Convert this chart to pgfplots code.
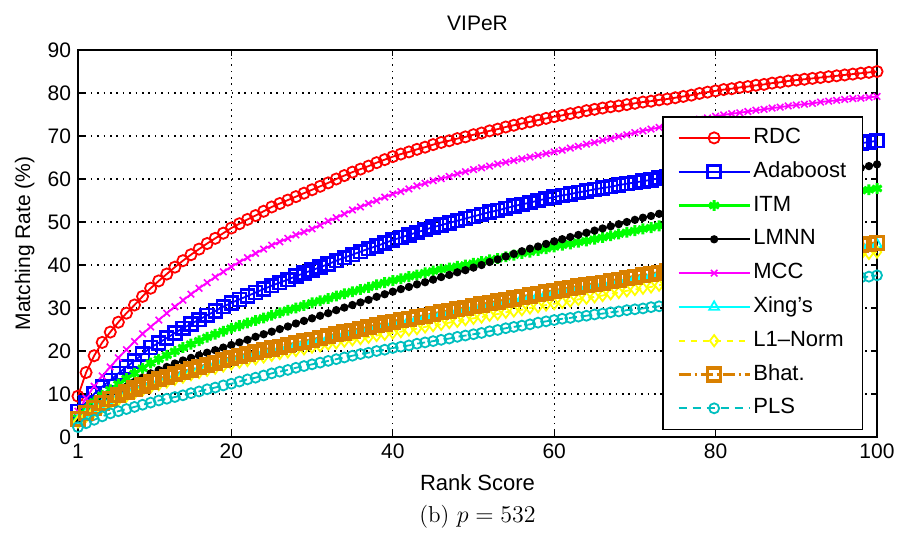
\documentclass[border=0pt]{standalone}
\usepackage{pgfplots}
\pgfplotsset{compat=1.18}
\usepackage{pgfplotstable}
\usepackage{fontspec}
\setsansfont{Liberation Sans}
\newfontfamily\ticksans{Liberation Sans}
\definecolor{cRDC}{rgb}{1,0,0}
\definecolor{cAda}{rgb}{0,0,1}
\definecolor{cITM}{rgb}{0,1,0}
\definecolor{cLMNN}{rgb}{0,0,0}
\definecolor{cMCC}{rgb}{1,0,1}
\definecolor{cXing}{rgb}{0,1,1}
\definecolor{cL1}{rgb}{1,1,0}
\definecolor{cBhat}{rgb}{0.85,0.5,0}
\definecolor{cPLS}{rgb}{0,0.75,0.75}
\newcommand{\tl}[1]{\textsf{\fontsize{10.5}{12}\selectfont #1}}
\pgfplotstableread{
r RDC Ada ITM LMNN MCC Xing L1 Bhat PLS
1 9.5 6.0 4.5 3.5 6.0 3.9 3.5 4.2 2.3
2 15.0 8.0 6.5 5.2 9.0 5.3 4.8 5.6 3.2
3 18.9 10.0 8.2 6.8 11.8 6.5 6.0 6.8 4.0
4 22.0 11.7 9.7 8.2 14.2 7.6 7.0 7.9 4.8
5 24.4 13.2 11.0 9.5 16.3 8.5 7.9 8.8 5.5
6 26.7 14.8 12.3 10.6 18.4 9.4 8.7 9.7 6.0
7 28.8 16.3 13.6 11.7 20.3 10.2 9.5 10.5 6.5
8 30.7 17.7 14.8 12.8 22.2 11.0 10.2 11.3 7.0
9 32.7 19.3 16.0 13.8 24.0 11.7 10.9 12.0 7.5
10 34.6 20.8 17.2 14.8 25.6 12.5 11.6 12.8 8.0
11 36.3 21.9 18.1 15.6 27.2 13.1 12.2 13.4 8.5
12 37.9 23.0 19.0 16.3 28.8 13.7 12.8 14.0 8.9
13 39.5 24.2 19.9 17.1 30.3 14.3 13.4 14.6 9.3
14 41.0 25.3 20.8 17.8 31.8 14.8 13.9 15.1 9.7
15 42.4 26.3 21.6 18.4 33.2 15.4 14.5 15.7 10.2
16 43.7 27.3 22.4 19.0 34.6 15.9 15.0 16.2 10.6
17 45.0 28.3 23.2 19.6 35.9 16.5 15.5 16.8 11.1
18 46.2 29.3 23.9 20.2 37.2 17.0 16.0 17.3 11.5
19 47.4 30.3 24.6 20.8 38.4 17.6 16.5 17.9 12.0
20 48.6 31.2 25.3 21.4 39.6 18.1 17.0 18.4 12.4
21 49.6 32.0 25.9 22.0 40.7 18.5 17.4 18.8 12.9
22 50.6 32.8 26.5 22.6 41.7 19.0 17.8 19.3 13.4
23 51.5 33.6 27.1 23.3 42.7 19.4 18.2 19.7 13.8
24 52.5 34.4 27.7 23.9 43.7 19.9 18.6 20.2 14.3
25 53.5 35.2 28.3 24.5 44.6 20.3 19.0 20.6 14.8
26 54.3 35.9 28.9 25.1 45.4 20.7 19.4 21.0 15.2
27 55.1 36.6 29.5 25.7 46.2 21.1 19.8 21.4 15.6
28 55.9 37.4 30.0 26.4 47.0 21.5 20.1 21.8 16.1
29 56.7 38.1 30.6 27.0 47.7 21.9 20.5 22.2 16.5
30 57.5 38.8 31.2 27.6 48.4 22.3 20.9 22.6 16.9
31 58.3 39.5 31.7 28.2 49.3 22.7 21.2 23.0 17.3
32 59.1 40.2 32.2 28.8 50.2 23.1 21.6 23.4 17.7
33 60.0 41.0 32.8 29.5 51.0 23.6 21.9 23.9 18.1
34 60.8 41.7 33.3 30.1 51.9 24.0 22.3 24.3 18.5
35 61.6 42.4 33.8 30.7 52.8 24.4 22.6 24.7 18.9
36 62.3 43.1 34.3 31.3 53.5 24.8 22.9 25.1 19.3
37 63.0 43.8 34.8 31.9 54.3 25.2 23.2 25.5 19.6
38 63.8 44.4 35.4 32.6 55.0 25.7 23.6 26.0 20.0
39 64.5 45.1 35.9 33.2 55.8 26.1 23.9 26.4 20.3
40 65.2 45.8 36.4 33.8 56.5 26.5 24.2 26.8 20.7
41 65.8 46.4 36.8 34.4 57.1 26.9 24.5 27.2 21.0
42 66.3 47.0 37.3 34.9 57.7 27.2 24.9 27.5 21.3
43 66.9 47.6 37.7 35.5 58.4 27.6 25.2 27.9 21.7
44 67.4 48.2 38.2 36.0 59.0 27.9 25.6 28.2 22.0
45 68.0 48.8 38.6 36.6 59.6 28.3 25.9 28.6 22.3
46 68.5 49.3 39.0 37.2 60.1 28.7 26.2 29.0 22.6
47 68.9 49.8 39.3 37.7 60.6 29.0 26.6 29.3 22.9
48 69.4 50.3 39.7 38.3 61.2 29.4 26.9 29.7 23.3
49 69.8 50.8 40.0 38.8 61.7 29.7 27.3 30.0 23.6
50 70.3 51.3 40.4 39.4 62.2 30.1 27.6 30.4 23.9
51 70.7 51.8 40.8 40.0 62.6 30.5 27.9 30.8 24.2
52 71.2 52.3 41.2 40.7 63.0 30.8 28.3 31.1 24.6
53 71.6 52.7 41.5 41.3 63.5 31.2 28.6 31.5 24.9
54 72.1 53.2 41.9 42.0 63.9 31.5 29.0 31.8 25.3
55 72.5 53.7 42.3 42.6 64.3 31.9 29.3 32.2 25.6
56 72.9 54.1 42.7 43.2 64.7 32.3 29.6 32.6 25.9
57 73.3 54.5 43.0 43.8 65.1 32.6 30.0 32.9 26.2
58 73.7 55.0 43.4 44.3 65.5 33.0 30.3 33.3 26.6
59 74.1 55.4 43.8 44.9 65.9 33.3 30.7 33.6 26.9
60 74.5 55.8 44.2 45.5 66.3 33.7 31.0 34.0 27.2
61 74.8 56.2 44.6 46.0 66.7 34.0 31.3 34.3 27.5
62 75.2 56.5 44.9 46.5 67.2 34.3 31.6 34.6 27.7
63 75.5 56.9 45.3 47.0 67.6 34.7 32.0 35.0 28.0
64 75.9 57.2 45.6 47.5 68.1 35.0 32.3 35.3 28.2
65 76.2 57.6 46.0 48.0 68.5 35.3 32.6 35.6 28.5
66 76.5 57.9 46.4 48.5 69.0 35.6 32.9 35.9 28.7
67 76.8 58.2 46.8 49.0 69.4 36.0 33.3 36.3 29.0
68 77.0 58.6 47.2 49.5 69.9 36.3 33.6 36.6 29.2
69 77.3 58.9 47.6 50.0 70.3 36.7 34.0 37.0 29.5
70 77.6 59.2 48.0 50.5 70.8 37.0 34.3 37.3 29.7
71 77.9 59.5 48.4 51.0 71.2 37.3 34.6 37.6 29.9
72 78.1 59.8 48.7 51.4 71.6 37.6 34.9 37.9 30.2
73 78.4 60.2 49.1 51.9 72.0 37.9 35.3 38.2 30.4
74 78.6 60.5 49.4 52.3 72.4 38.2 35.6 38.5 30.7
75 78.9 60.8 49.8 52.8 72.8 38.5 35.9 38.8 30.9
76 79.2 61.1 50.2 53.3 73.2 38.8 36.2 39.1 31.2
77 79.5 61.5 50.6 53.8 73.5 39.1 36.5 39.4 31.5
78 79.9 61.8 51.0 54.3 73.9 39.5 36.9 39.8 31.7
79 80.2 62.2 51.4 54.8 74.2 39.8 37.2 40.1 32.0
80 80.5 62.5 51.8 55.3 74.6 40.1 37.5 40.4 32.3
81 80.8 62.8 52.1 55.7 74.9 40.4 37.8 40.7 32.6
82 81.0 63.2 52.5 56.1 75.2 40.7 38.1 41.0 32.9
83 81.3 63.5 52.8 56.6 75.4 41.0 38.4 41.3 33.1
84 81.5 63.9 53.2 57.0 75.7 41.3 38.7 41.6 33.4
85 81.8 64.2 53.5 57.4 76.0 41.6 39.0 41.9 33.7
86 82.0 64.5 53.8 57.8 76.2 41.8 39.3 42.1 34.0
87 82.3 64.8 54.1 58.2 76.5 42.0 39.6 42.3 34.2
88 82.5 65.2 54.4 58.7 76.7 42.3 39.8 42.6 34.5
89 82.8 65.5 54.7 59.1 77.0 42.5 40.1 42.8 34.7
90 83.0 65.8 55.0 59.5 77.2 42.7 40.4 43.0 35.0
91 83.2 66.1 55.3 59.9 77.4 42.9 40.7 43.2 35.3
92 83.4 66.4 55.6 60.3 77.6 43.1 40.9 43.4 35.5
93 83.6 66.8 55.9 60.7 77.9 43.4 41.2 43.7 35.8
94 83.8 67.1 56.2 61.1 78.1 43.6 41.4 43.9 36.0
95 84.0 67.4 56.5 61.5 78.3 43.8 41.7 44.1 36.3
96 84.2 67.7 56.8 61.9 78.5 44.0 42.0 44.3 36.6
97 84.4 68.0 57.0 62.3 78.7 44.2 42.2 44.5 36.8
98 84.6 68.3 57.3 62.6 78.8 44.4 42.5 44.7 37.1
99 84.8 68.6 57.5 63.0 79.0 44.6 42.7 44.9 37.3
100 85.0 68.9 57.8 63.4 79.2 44.8 43.0 45.1 37.6
}\data
\begin{document}
\begin{tikzpicture}
\path[use as bounding box] (-39pt,-47.5pt) rectangle (409.5pt,218.5pt);
\begin{axis}[
  at={(0,0)}, anchor=south west,
  scale only axis, width=399.5pt, height=193.5pt,
  xmin=1, xmax=100, ymin=0, ymax=90,
  xtick={1,20,40,60,80,100},
  xticklabels={\tl{1},\tl{20},\tl{40},\tl{60},\tl{80},\tl{100}},
  ytick={0,10,20,30,40,50,60,70,80,90},
  yticklabels={\tl{0},\tl{10},\tl{20},\tl{30},\tl{40},\tl{50},\tl{60},\tl{70},\tl{80},\tl{90}},
  tick label style={font=\ticksans\fontsize{10.5}{12}\selectfont},
  tick align=inside, major tick length=3pt,
  axis line style={line width=0.7pt},
  every tick/.style={black, line width=0.6pt},
  grid=major,
  grid style={black, line width=0.6pt, dash pattern=on 0.8pt off 2.4pt},
  title={VIPeR},
  every axis title shift=0pt,
  title style={font=\sffamily\fontsize{10.5}{12}\selectfont, at={(axis description cs:0.5,1.05)}, anchor=base},
  xlabel={Rank Score},
  xlabel style={font=\sffamily\fontsize{11}{13}\selectfont, at={(axis description cs:0.5,-0.1395)}, anchor=base},
  ylabel={Matching Rate (\%)},
  ylabel style={font=\sffamily\fontsize{10.5}{12}\selectfont, at={(axis description cs:-0.06,0.5)}, anchor=base, rotate=0},
  clip=false,
  legend cell align=left,
  legend image code/.code={\draw[mark repeat=2,mark phase=2,#1] plot coordinates {(0pt,0pt) (17.75pt,0pt) (35.5pt,0pt)};},
  legend style={at={(axis description cs:0.98248,0.01809)}, anchor=south east,
    font=\sffamily\fontsize{11}{13}\selectfont,
    draw=black, line width=0.7pt, fill=white,
    inner xsep=7pt, inner ysep=4.5pt, row sep=4.9pt,
    nodes={text height=7.8pt, text depth=2.2pt, inner sep=1pt},
    /tikz/every even column/.append style={column sep=3pt}},
]
\addplot[cRDC, line width=0.9pt, mark=o, mark size=2.8pt, mark options={solid, line width=0.9pt}] table[x=r,y=RDC]{\data};
\addlegendentry{RDC}
\addplot[cAda, line width=0.9pt, mark=square, mark size=3.2pt, mark options={solid, line width=1.3pt}] table[x=r,y=Ada]{\data};
\addlegendentry{Adaboost}
\addplot[cITM, line width=1.7pt, mark=asterisk, mark size=2.7pt, mark options={solid, line width=1.5pt}] table[x=r,y=ITM]{\data};
\addlegendentry{ITM}
\addplot[cLMNN, line width=0.9pt, mark=*, mark size=1.6pt, mark options={solid}] table[x=r,y=LMNN]{\data};
\addlegendentry{LMNN}
\addplot[cMCC, line width=0.9pt, mark=x, mark size=2.3pt, mark options={solid, line width=0.8pt}] table[x=r,y=MCC]{\data};
\addlegendentry{MCC}
\addplot[cXing, line width=0.9pt, mark=triangle, mark size=2.8pt, mark options={solid, line width=0.9pt}] table[x=r,y=Xing]{\data};
\addlegendentry{Xing's}
\addplot[cL1, line width=0.9pt, dashed, mark=diamond, mark size=2.8pt, mark options={solid, line width=0.9pt}] table[x=r,y=L1]{\data};
\addlegendentry{L1\textendash Norm}
\addplot[cBhat, line width=1.7pt, dash pattern=on 6pt off 2pt on 1pt off 2pt, mark=square, mark size=3.2pt, mark options={solid, line width=1.7pt}] table[x=r,y=Bhat]{\data};
\addlegendentry{Bhat.}
\addplot[cPLS, line width=0.9pt, dash pattern=on 4pt off 3pt, mark=o, mark size=2.5pt, mark options={solid, line width=0.9pt}] table[x=r,y=PLS]{\data};
\addlegendentry{PLS}
\end{axis}
\node[anchor=base, font=\fontsize{11.5}{13}\selectfont] at (199.75pt,-42.5pt) {(b)~$p=532$};
\end{tikzpicture}
\end{document}
